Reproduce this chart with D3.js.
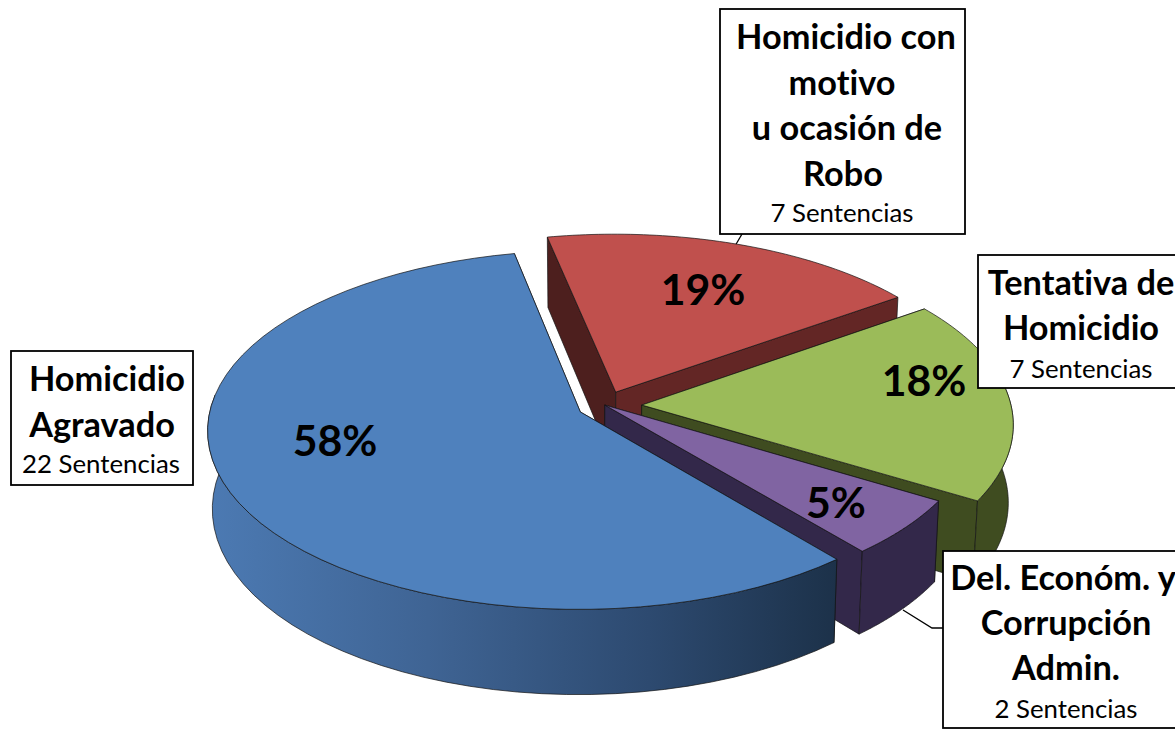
<!DOCTYPE html>
<html lang="es">
<head>
<meta charset="utf-8">
<title>Sentencias por delito</title>
<script src="https://cdn.jsdelivr.net/npm/d3@7/dist/d3.min.js"></script>
<style>
    html, body { margin: 0; padding: 0; background: #fff; overflow: hidden; }
    svg { display: block; font-family: Lato, "Open Sans", sans-serif; font-variant-ligatures: none; }
    .titulo { font-weight: 700; font-size: 34.3px; fill: #000; }
    .sub { font-weight: 400; font-size: 25.8px; fill: #000; }
    .pct { font-weight: 700; font-size: 42.8px; fill: #000; }
</style>
</head>
<body>
<div id="chart"></div>
<script>
// Datos
const delitos = ["Homicidio Agravado", "Homicidio con motivo u ocasión de Robo", "Tentativa de Homicidio", "Del. Económ. y Corrupción Admin."];
const sentencias = [22, 7, 7, 2];
const porcentajes = ["58%", "19%", "18%", "5%"];
const lineasEtiqueta = [
    ["Homicidio", "Agravado"],
    ["Homicidio con", "motivo", "u ocasión de", "Robo"],
    ["Tentativa de", "Homicidio"],
    ["Del. Económ. y", "Corrupción", "Admin."]
];

const width = 1175, height = 730;

// Colores (cara superior, borde exterior, pared radial inicio, pared radial fin)
const colorTop = ["#4f81bd", "#c0504d", "#9bbb59", "#8064a2"];
const colorSide = ["url(#gradAzul)", "#632625", "#3f4c20", "#33284a"];
const colorWallA = ["#1c3149", "#4d1f1e", "#3f4c20", "#33284a"];
const colorWallB = ["#1c3149", "#632625", "#3f4c20", "#33284a"];

// Desplazamiento de cada rebanada sobre el plano del pastel
const explode = [[-0.053, -0.045], [0.043, 0.068], [0.113, -0.006], [0.013, -0.006]];

// Perspectiva
const cx = 600, cy = 404, A = 369, B = 176, k = 0.1;
const bajaX = 0.988, bajaY = 1.04, bajaD = 77;

function project(u, v, abajo) {
    const w = 1 + k * v;
    let x = A * u / w, y = -B * v / w;
    if (abajo) {
        x *= bajaX;
        y = y * bajaY + bajaD;
    }
    return [cx + x, cy + y];
}

const line = d3.line();

const inicio = 140 * Math.PI / 180;
const arcs = d3.pie().sort(null).startAngle(inicio).endAngle(inicio + 2 * Math.PI)(sentencias);

const svg = d3.select("#chart").append("svg")
    .attr("width", width)
    .attr("height", height);

const grad = svg.append("defs").append("linearGradient")
    .attr("id", "gradAzul")
    .attr("gradientUnits", "userSpaceOnUse")
    .attr("x1", 207).attr("x2", 838).attr("y1", 0).attr("y2", 0);
grad.append("stop").attr("offset", "0%").attr("stop-color", "#4c7ab3");
grad.append("stop").attr("offset", "35%").attr("stop-color", "#3f6494");
grad.append("stop").attr("offset", "70%").attr("stop-color", "#2d4a70");
grad.append("stop").attr("offset", "100%").attr("stop-color", "#1c3149");

// Lineas guia (debajo del pastel)
const guias = [
    [[742, 234], [735, 246]],
    [[903, 610], [932, 628], [943, 628]]
];
svg.append("g").selectAll("path")
    .data(guias)
    .join("path")
    .attr("d", d => line(d))
    .attr("fill", "none")
    .attr("stroke", "#000")
    .attr("stroke-width", 1.3);

// Orden de pintado: de atras hacia adelante
const orden = [1, 2, 3, 0];

orden.forEach(i => {
    const d = arcs[i];
    const [du, dv] = explode[i];
    const angulos = d3.range(0, 61).map(j => d.startAngle + (d.endAngle - d.startAngle) * j / 60);
    const rim = (lista, abajo) => lista.map(t => project(du + Math.sin(t), dv + Math.cos(t), abajo));
    const rimTop = rim(angulos, false);
    const apexTop = project(du, dv, false), apexBot = project(du, dv, true);
    const first = angulos[0], last = angulos[60];
    // solo la parte del borde que mira al frente
    const frente = angulos.filter(t => Math.cos(t) < 0.1);

    const g = svg.append("g").attr("class", "slice");
    const edge = sel => sel.attr("stroke", "#141414").attr("stroke-width", 0.7).attr("stroke-linejoin", "round");

    // paredes radiales
    g.append("path")
        .attr("d", line([apexTop, rim([first], false)[0], rim([first], true)[0], apexBot]) + "Z")
        .attr("fill", colorWallA[i]).call(edge);
    g.append("path")
        .attr("d", line([apexTop, rim([last], false)[0], rim([last], true)[0], apexBot]) + "Z")
        .attr("fill", colorWallB[i]).call(edge);
    // pared exterior
    if (frente.length > 1) {
        g.append("path")
            .attr("d", line(rim(frente, false).concat(rim(frente, true).reverse())) + "Z")
            .attr("fill", colorSide[i]).call(edge);
    }
    // cara superior
    g.append("path")
        .attr("d", line([apexTop].concat(rimTop)) + "Z")
        .attr("fill", colorTop[i]).call(edge);
});

// Porcentajes
const posPct = [[335, 456], [703, 305], [924, 396], [836, 518]];
svg.append("g").selectAll("text")
    .data(porcentajes)
    .join("text")
    .attr("class", "pct")
    .attr("x", (d, i) => posPct[i][0])
    .attr("y", (d, i) => posPct[i][1])
    .attr("text-anchor", "middle")
    .text(d => d);

// Cajas de etiqueta: caja, centro del texto, lineas base
const cajas = [
    { x: 11, y: 351, w: 182, h: 134, cx: [107, 102, 101], base: [391, 437, 473] },
    { x: 720, y: 9, w: 245, h: 225, cx: [846, 842, 847, 843, 842], base: [49, 95, 140, 186, 222] },
    { x: 978, y: 255, w: 210, h: 133, cx: [1081, 1081, 1081], base: [295, 340, 378] },
    { x: 943, y: 551, w: 250, h: 177, cx: [1063, 1066, 1066, 1066], base: [590, 635, 680, 718] }
];

cajas.forEach((c, i) => {
    const g = svg.append("g").attr("class", "etiqueta");
    g.append("rect")
        .attr("x", c.x).attr("y", c.y)
        .attr("width", c.w).attr("height", c.h)
        .attr("fill", "#fff")
        .attr("stroke", "#000")
        .attr("stroke-width", 1.8);
    lineasEtiqueta[i].forEach((t, j) => {
        g.append("text").attr("class", "titulo")
            .attr("x", c.cx[j]).attr("y", c.base[j])
            .attr("text-anchor", "middle")
            .text(t);
    });
    const n = lineasEtiqueta[i].length;
    g.append("text").attr("class", "sub")
        .attr("x", c.cx[n]).attr("y", c.base[n])
        .attr("text-anchor", "middle")
        .text(`${sentencias[i]} Sentencias`);
});
</script>
</body>
</html>
